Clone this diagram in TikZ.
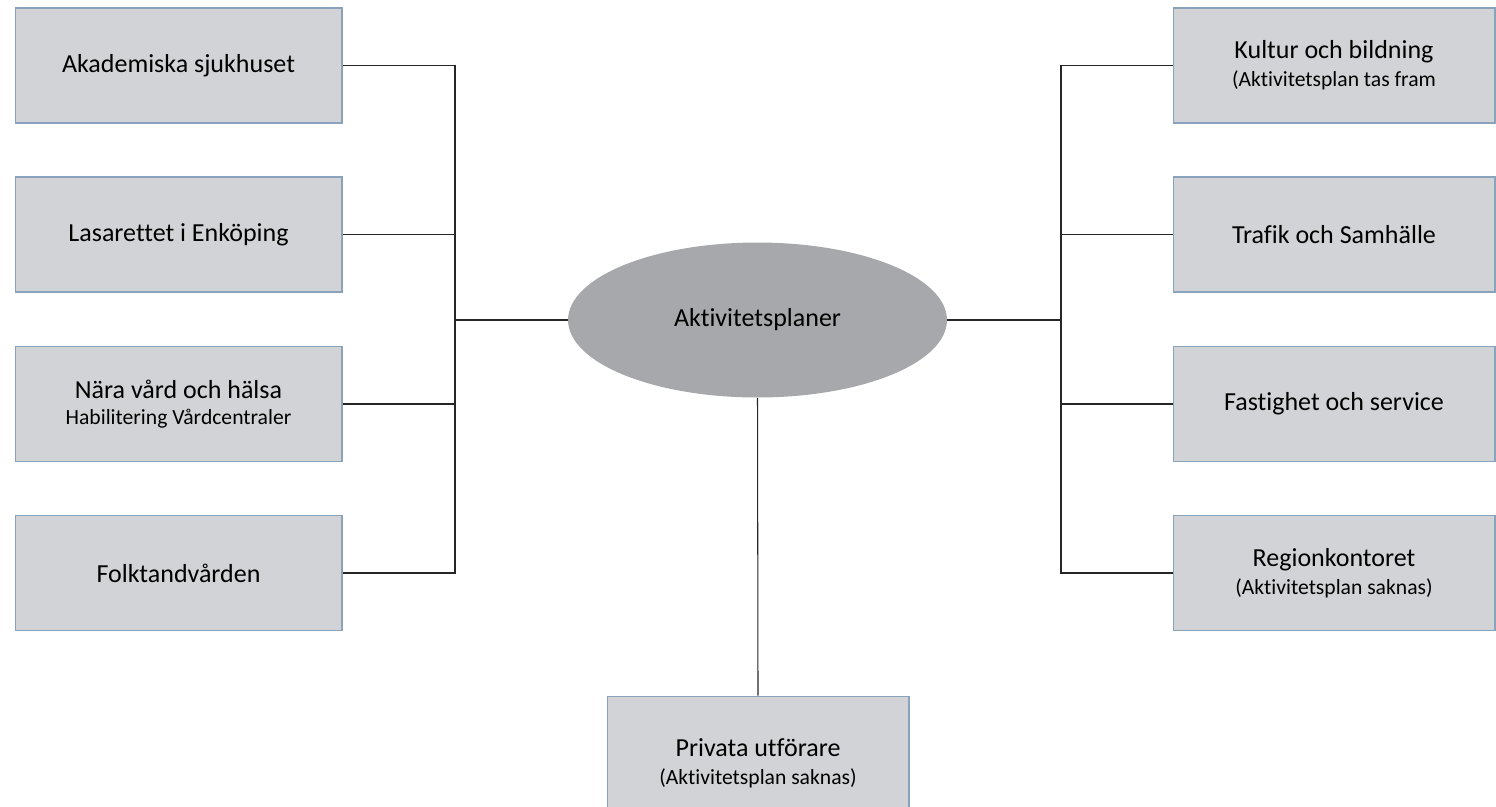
\documentclass[tikz,border=0pt]{standalone}
\usepackage{fontspec}
\setmainfont{Carlito}[Ligatures=NoCommon]
\usetikzlibrary{shapes.geometric}
\definecolor{boxfill}{HTML}{D1D3D6}
\definecolor{boxline}{HTML}{8AA3BC}
\definecolor{hubfill}{HTML}{A7A8AB}
\newcommand{\subline}[1]{{\fontsize{12.3}{14}\selectfont #1}}

\begin{document}
\begin{tikzpicture}[x=0.02cm, y=-0.02cm,
    unit/.style={rectangle, draw=boxline, fill=boxfill, line width=0.6pt, minimum width=6.54cm, minimum height=2.3cm, align=center, font=\fontsize{14.8}{18}\selectfont},
    hub/.style={ellipse, fill=hubfill, minimum width=7.58cm, minimum height=3.1cm, inner sep=0pt, font=\fontsize{14.8}{18}\selectfont},
    link/.style={draw=black!85, line width=0.6pt}]
      \useasboundingbox (0,0) rectangle (1496,806);

      \node[hub] (plan) at (757.5,320) {Aktivitetsplaner};

      \node[unit] (aka) at (178.5,65.5) {Akademiska sjukhuset};
      \node[unit] (las) at (178.5,234.5) {Lasarettet i Enköping};
      \node[unit] (nara) at (178.5,404) {Nära vård och hälsa\\[-3pt]\subline{Habilitering Vårdcentraler}};
      \node[unit] (folk) at (178.5,573) {Folktandvården};

      \node[unit, minimum width=6.44cm] (kult) at (1334,65.5) {Kultur och bildning\\[-2pt]\subline{(Aktivitetsplan tas fram}};
      \node[unit, minimum width=6.44cm] (traf) at (1334,234.5) {Trafik och Samhälle};
      \node[unit, minimum width=6.44cm] (fast) at (1334,404) {Fastighet och service};
      \node[unit, minimum width=6.44cm] (reg) at (1334,573) {Regionkontoret\\[-2pt]\subline{(Aktivitetsplan saknas)}};

      \node[unit, minimum width=6.04cm, minimum height=2.7cm] (priv) at (758,763.5) {Privata utförare\\[-2pt]\subline{(Aktivitetsplan saknas)}};

      \coordinate (jl) at (455,320);
      \coordinate (jr) at (1061,320);

      \draw[link] (aka.east) -| (jl);
      \draw[link] (las.east) -| (jl);
      \draw[link] (nara.east) -| (jl);
      \draw[link] (folk.east) -| (jl);
      \draw[link] (jl) -- (plan.west);

      \draw[link] (plan.east) -- (jr);
      \draw[link] (kult.west) -| (jr);
      \draw[link] (traf.west) -| (jr);
      \draw[link] (fast.west) -| (jr);
      \draw[link] (reg.west) -| (jr);

      \draw[link] (plan.south) -- (priv.north);
    \end{tikzpicture}
\end{document}
